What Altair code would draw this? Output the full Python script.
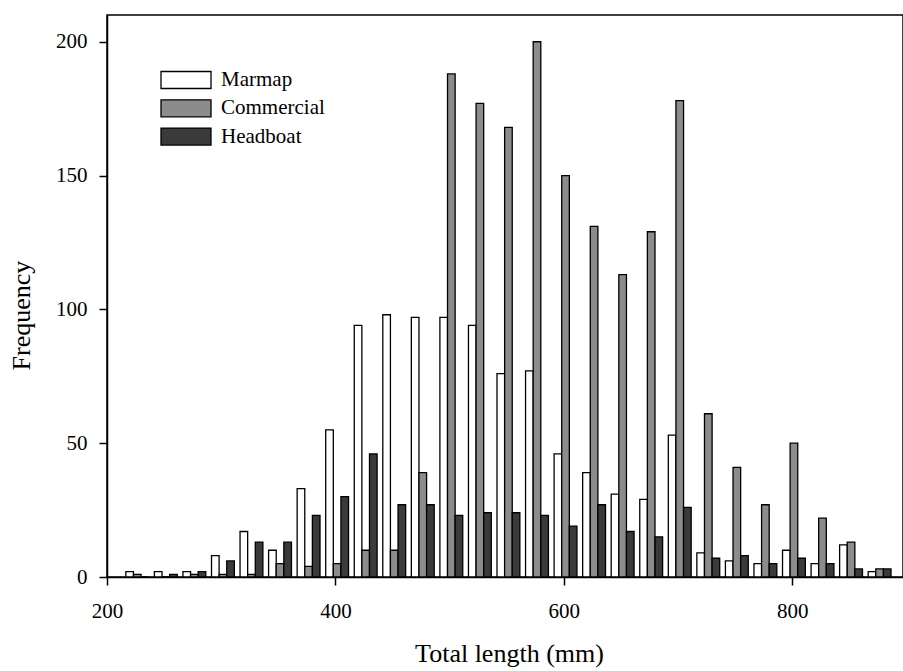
import altair as alt
import pandas as pd

# Bin centres (mm) and frequencies
bins = [225, 250, 275, 300, 325, 350, 375, 400, 425, 450, 475, 500, 525, 550,
        575, 600, 625, 650, 675, 700, 725, 750, 775, 800, 825, 850, 875]
marmap = [2, 2, 2, 8, 17, 10, 33, 55, 94, 98, 97, 97, 94, 76,
          77, 46, 39, 31, 29, 53, 9, 6, 5, 10, 5, 12, 2]
commercial = [1, 0, 1, 1, 1, 5, 4, 5, 10, 10, 39, 188, 177, 168,
              200, 150, 131, 113, 129, 178, 61, 41, 27, 50, 22, 13, 3]
headboat = [0, 1, 2, 6, 13, 13, 23, 30, 46, 27, 27, 23, 24, 24,
            23, 19, 27, 17, 15, 26, 7, 8, 5, 7, 5, 3, 3]
series = ["Marmap", "Commercial", "Headboat"]
fills = ["#ffffff", "#8c8c8c", "#3a3a3a"]

rows = []
for i, b in enumerate(bins):
    for k, (name, vals) in enumerate(zip(series, [marmap, commercial, headboat])):
        rows.append({"length": b, "series": name, "order": k, "freq": vals[i]})
df = pd.DataFrame(rows)

FONT = "Liberation Serif"

chart = alt.Chart(df).transform_calculate(
    x0="datum.length - 8.5 + datum.order * 6.67",
    x1="datum.length - 8.5 + (datum.order + 1) * 6.67",
).mark_bar(stroke="black", strokeWidth=1.3).encode(
    x=alt.X("x0:Q",
            scale=alt.Scale(domain=[200, 897], nice=False, zero=False),
            axis=alt.Axis(values=[200, 400, 600, 800], title="Total length (mm)",
                          labelFlush=False,
                          labelBaseline="alphabetic", labelPadding=32,
                          titleX=402, titleY=84, titleBaseline="alphabetic")),
    x2="x1:Q",
    y=alt.Y("freq:Q",
            scale=alt.Scale(domain=[0, 210], nice=False),
            axis=alt.Axis(values=[0, 50, 100, 150, 200], title="Frequency",
                          labelPadding=12, titleX=-86, titleY=300,
                          titleAlign="center", titleBaseline="middle", titleAngle=-90)),
    y2=alt.datum(0),
    fill=alt.Fill("series:N",
                  scale=alt.Scale(domain=series, range=fills),
                  legend=alt.Legend(title=None, orient="none", legendX=65.5, legendY=51.5,
                                    symbolType="M-2,-0.68H2V0.68H-2Z", symbolSize=625,
                                    symbolStrokeColor="black", symbolStrokeWidth=1.3,
                                    labelFont=FONT, labelFontSize=21, labelColor="black",
                                    labelOffset=21.5, rowPadding=3.3, padding=0)),
).properties(
    width=796, height=562,
    autosize=alt.AutoSizeParams(type="none"),
    padding={"left": 107, "top": 15, "right": 0, "bottom": 94},
).configure_view(
    stroke="black", strokeWidth=1.5
).configure_axis(
    grid=False, domainColor="black", domainWidth=1.5, tickColor="black",
    tickWidth=1.5, tickSize=8, labelColor="black", titleColor="black",
    labelFont=FONT, labelFontSize=21, titleFont=FONT, titleFontSize=26,
    titleFontWeight="normal"
)

chart.save("out.html", embed_options={"renderer": "svg", "actions": False})
